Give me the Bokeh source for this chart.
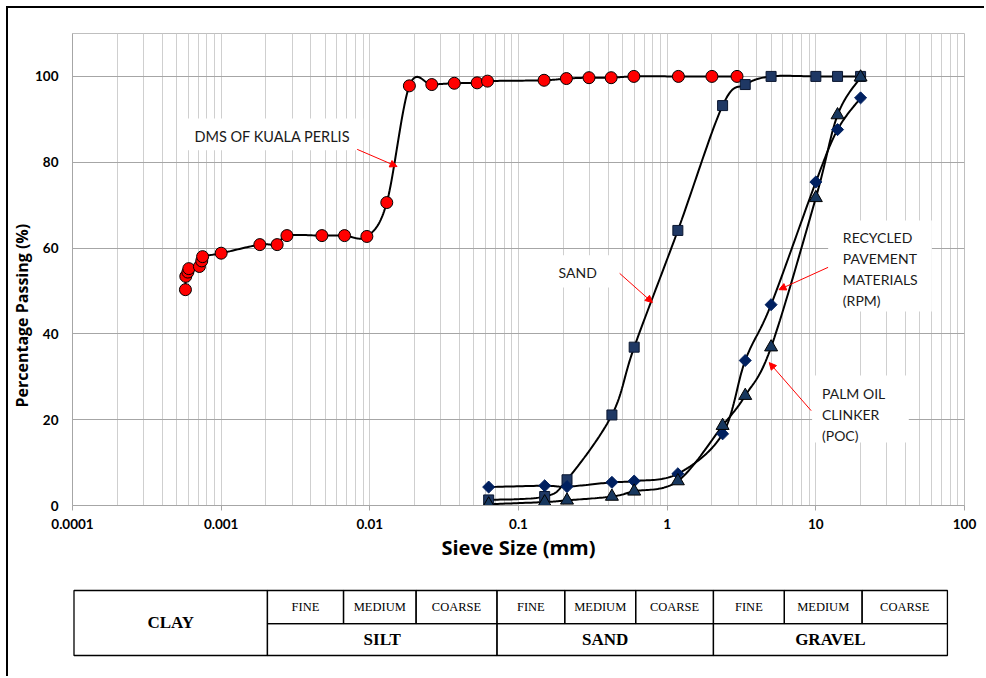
import numpy as np
from bokeh.plotting import figure
from bokeh.layouts import column
from bokeh.models import (Range1d, FixedTicker, Label, BoxAnnotation, Arrow, NormalHead,
                          ColumnDataSource, Title)
from bokeh.core.properties import value
from bokeh.embed import file_html
from bokeh.resources import INLINE

# ---------------- data ----------------
dms_size = [0.000575, 0.000578, 0.000597, 0.000606, 0.000714, 0.00074, 0.00075, 0.001,
            0.00182, 0.00238, 0.00277, 0.00476, 0.00676, 0.00955, 0.0130, 0.01845,
            0.0261, 0.037, 0.0527, 0.0619, 0.1486, 0.21, 0.298, 0.42, 0.597, 1.19, 2.0, 2.95]
dms_pass = [50.3, 53.4, 54.4, 55.2, 55.7, 57.0, 58.0, 58.8,
            60.8, 60.8, 62.9, 62.9, 62.9, 62.7, 70.6, 97.8,
            98.1, 98.4, 98.5, 98.9, 99.1, 99.5, 99.7, 99.7, 100.0, 100.0, 100.0, 100.0]

sieve = [0.063, 0.15, 0.212, 0.425, 0.6, 1.18, 2.36, 3.35, 5.0, 10, 14, 20]
sand_pass = [1.3, 2.1, 6.0, 21.1, 36.9, 64.1, 93.2, 98.1, 100.0, 100.0, 100.0, 100.0]
rpm_pass = [4.3, 4.6, 4.4, 5.4, 5.7, 7.4, 16.7, 33.8, 46.8, 75.4, 87.6, 95.0]
poc_pass = [0.3, 0.8, 1.2, 2.1, 3.3, 5.7, 18.6, 25.6, 36.9, 71.7, 91.0, 99.8]

x_ticks = [0.0001, 0.001, 0.01, 0.1, 1, 10, 100]
x_tick_labels = ["0.0001", "0.001", "0.01", "0.1", "1", "10", "100"]
y_ticks = [0, 20, 40, 60, 80, 100]

# soil classification table
class_names = ["SILT", "SAND", "GRAVEL"]
class_bounds = [(0.002, 0.07), (0.07, 2), (2, 75)]
sub_names = ["FINE", "MEDIUM", "COARSE"] * 3
sub_bounds = [(0.002, 0.0065), (0.0065, 0.02), (0.02, 0.07),
              (0.07, 0.2), (0.2, 0.6), (0.6, 2),
              (2, 6), (6, 20), (20, 75)]
clay_bounds = (0.0001, 0.002)

FONT = "Lato"
TFONT = "Open Sans"
SERIF = "Liberation Serif"


def smooth(xs, ys, n=24):
    """Excel-like smoothed line (Catmull-Rom Bezier) in log-x / y space."""
    P = np.column_stack([np.log10(xs), np.asarray(ys, float)])
    P = np.vstack([P[0], P, P[-1]])
    t = np.linspace(0, 1, n)[:, None]
    segs = []
    for i in range(1, len(P) - 2):
        p0, p1, p2, p3 = P[i - 1], P[i], P[i + 1], P[i + 2]
        c1 = p1 + (p2 - p0) / 6.0
        c2 = p2 - (p3 - p1) / 6.0
        seg = (1 - t) ** 3 * p1 + 3 * (1 - t) ** 2 * t * c1 + 3 * (1 - t) * t ** 2 * c2 + t ** 3 * p2
        segs.append(seg if i == 1 else seg[1:])
    S = np.vstack(segs)
    return 10 ** S[:, 0], S[:, 1]


MB_L, MB_R = 61, 20

# ---------------- main chart ----------------
p = figure(width=976, height=557, x_axis_type="log",
           x_range=Range1d(0.0001, 100), y_range=Range1d(0, 110),
           output_backend="svg", toolbar_location=None,
           min_border_left=MB_L, min_border_right=MB_R, min_border_top=25, min_border_bottom=60)
p.background_fill_color = "white"
p.border_fill_color = "white"
p.outline_line_color = "#bfbfbf"

minor = [k * d for d in x_ticks[:-1] for k in range(2, 10)]
p.xaxis.ticker = FixedTicker(ticks=x_ticks, minor_ticks=minor)
p.xaxis.major_label_overrides = {v: s for v, s in zip(x_ticks, x_tick_labels)}
p.yaxis.ticker = FixedTicker(ticks=y_ticks)

for ax in (p.xaxis, p.yaxis):
    ax.major_label_text_font = FONT
    ax.major_label_text_font_style = "bold"
    ax.major_label_text_font_size = "13.5px"
    ax.major_label_text_color = "black"
    ax.axis_line_color = "#a6a6a6"
    ax.minor_tick_line_color = None
    ax.axis_label_text_font = TFONT
    ax.axis_label_text_font_style = "bold"
    ax.axis_label_text_color = "black"
p.xaxis.major_tick_line_color = "#a6a6a6"
p.xaxis.major_tick_out = 5
p.xaxis.major_tick_in = 0
p.xaxis.major_label_standoff = 8
p.xaxis.axis_label = "Sieve Size (mm)"
p.xaxis.axis_label_text_font_size = "20px"
p.xaxis.axis_label_standoff = 2
p.yaxis.major_tick_line_color = None
p.yaxis.major_tick_out = 0
p.yaxis.major_label_standoff = 14

p.add_layout(Title(text="Percentage Passing (%)", text_font=TFONT, text_font_style="bold",
                   text_font_size="16px", text_color="black", align="left",
                   offset=98, standoff=0), "left")

p.xgrid.grid_line_color = "#cfcfcf"
p.xgrid.minor_grid_line_color = "#cfcfcf"
p.ygrid.grid_line_color = "#a6a6a6"

# white label backgrounds
for l, r, t, b in [(0.000594, 0.00902, 90.2, 82.8),
                   (0.148, 0.443, 58.3, 50.8),
                   (12.1, 60.3, 66.4, 45.2),
                   (9.44, 42.2, 30.3, 14.7)]:
    p.add_layout(BoxAnnotation(left=l, right=r, top=t, bottom=b, fill_color="white",
                               fill_alpha=1.0, line_color=None, level="underlay"))

# smoothed lines
for xs, ys in [(dms_size, dms_pass), (sieve, sand_pass), (sieve, rpm_pass), (sieve, poc_pass)]:
    sx, sy = smooth(xs, ys)
    p.line(sx, sy, line_color="black", line_width=2)

# markers
p.scatter(dms_size, dms_pass, marker="circle", size=12, fill_color="#ff0000",
          line_color="black", line_width=1)
p.scatter(sieve, sand_pass, marker="square", size=10, fill_color="#1f3864",
          line_color="#0b1730", line_width=1)
p.scatter(sieve, rpm_pass, marker="square", angle=np.pi / 4, size=8.5, fill_color="#002060",
          line_color="#002060", line_width=1)
p.scatter(sieve, poc_pass, marker="triangle", size=13, fill_color="#17375e",
          line_color="black", line_width=1)

# arrows
for xs_, ys_, xe_, ye_ in [(0.00822, 83.0, 0.01524, 79.0),
                           (0.479, 54.1, 0.796, 47.3),
                           (12.09, 55.5, 5.65, 50.3),
                           (9.30, 22.1, 4.86, 33.3)]:
    p.add_layout(Arrow(end=NormalHead(size=7, fill_color="red", line_color="red", line_width=1),
                       x_start=xs_, y_start=ys_, x_end=xe_, y_end=ye_,
                       line_color="red", line_width=1))


def lab(x, y, text, align="center", size="14px"):
    p.add_layout(Label(x=x, y=y, text=text, text_font=FONT, text_font_size=size,
                       text_color="#1a1a1a", text_align=align, text_baseline="middle"))


lab(0.00221, 86.0, "DMS OF KUALA PERLIS", size="14.5px")
lab(0.250, 54.3, "SAND")
for yy, tt in zip([62.5, 57.6, 52.7, 47.8], ["RECYCLED", "PAVEMENT", "MATERIALS", "(RPM)"]):
    lab(15.2, yy, tt, align="left")
for yy, tt in zip([26.1, 21.2, 16.3], ["PALM OIL", "CLINKER", "(POC)"]):
    lab(11.0, yy, tt, align="left")

# ---------------- classification table ----------------
shift = 1.5 / 149.0  # keep the table's left border just inside the frame
t = figure(width=976, height=111, x_axis_type="log",
           x_range=Range1d(10 ** (-4 - shift), 10 ** (2 - shift)), y_range=Range1d(0, 1),
           output_backend="svg", toolbar_location=None,
           x_axis_location=None, y_axis_location=None,
           min_border_left=MB_L, min_border_right=MB_R, min_border_top=0, min_border_bottom=0)
t.grid.visible = False
t.outline_line_color = None
t.background_fill_color = "white"
t.border_fill_color = "white"

row_top, row_mid, row_bot = 0.775, 0.477, 0.189

t.quad(left=[clay_bounds[0]], right=[clay_bounds[1]], top=[row_top], bottom=[row_bot],
       fill_alpha=0, line_color="black", line_width=1.3)
t.quad(left=[b[0] for b in sub_bounds], right=[b[1] for b in sub_bounds],
       top=[row_top] * len(sub_bounds), bottom=[row_mid] * len(sub_bounds),
       fill_alpha=0, line_color="black", line_width=1.3)
t.quad(left=[b[0] for b in class_bounds], right=[b[1] for b in class_bounds],
       top=[row_mid] * len(class_bounds), bottom=[row_bot] * len(class_bounds),
       fill_alpha=0, line_color="black", line_width=1.3)

sub_src = ColumnDataSource(dict(x=[np.sqrt(a * b) for a, b in sub_bounds],
                                y=[(row_top + row_mid) / 2] * len(sub_bounds),
                                text=sub_names))
t.text(x="x", y="y", text="text", source=sub_src, text_font=value(SERIF),
       text_font_size="12.5px", text_align="center", text_baseline="middle",
       text_color="black")
cls_src = ColumnDataSource(dict(x=[np.sqrt(a * b) for a, b in class_bounds] + [np.sqrt(clay_bounds[0] * clay_bounds[1])],
                                y=[(row_mid + row_bot) / 2] * len(class_bounds) + [(row_top + row_bot) / 2],
                                text=class_names + ["CLAY"]))
t.text(x="x", y="y", text="text", source=cls_src, text_font=value(SERIF),
       text_font_size="17px", text_font_style="bold", text_align="center",
       text_baseline="middle", text_color="black")

layout = column(p, t, spacing=0, margin=(6, 0, 0, 6),
                styles={"border-left": "2px solid black", "border-top": "2px solid black"})

open("out.html", "w").write(file_html(layout, INLINE))
